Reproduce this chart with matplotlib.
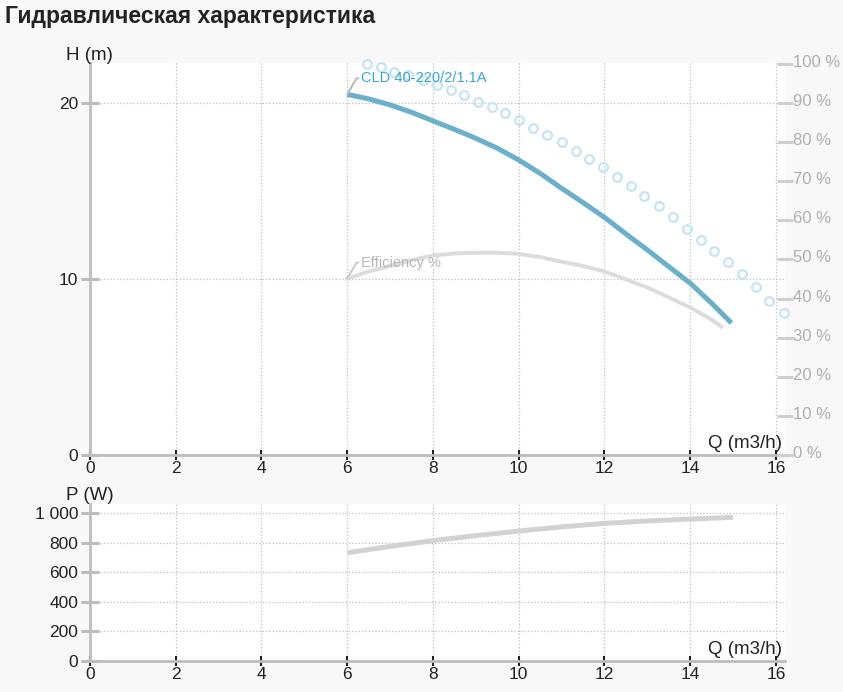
import numpy as np
import matplotlib
matplotlib.use("Agg")
import matplotlib.pyplot as plt
from matplotlib.ticker import FuncFormatter
from matplotlib.transforms import ScaledTranslation

plt.rcParams['font.family'] = ['Liberation Sans', 'DejaVu Sans']

# -----------------------------
# Data
# -----------------------------
title = "Гидравлическая характеристика"
pump_name = "CLD 40-220/2/1.1A"

q_head = [6, 6.5, 7, 7.5, 8, 8.5, 9, 9.5, 10, 10.5, 11, 11.5, 12, 12.5, 13, 13.5, 14, 14.5, 14.96]
head = [20.49, 20.23, 19.89, 19.47, 18.98, 18.5, 17.99, 17.43, 16.76, 16.0, 15.15, 14.34,
        13.5, 12.56, 11.65, 10.7, 9.76, 8.62, 7.5]

q_eff = [6, 6.5, 7, 7.5, 8, 8.5, 9, 9.5, 10, 10.5, 11, 11.5, 12, 12.5, 13, 13.5, 14, 14.5, 14.72]
eff = [45.1, 46.9, 48.3, 49.8, 51.0, 51.5, 51.7, 51.7, 51.4, 50.6, 49.4, 48.3, 46.9, 44.9,
       42.8, 40.3, 37.7, 34.6, 32.8]

q_circ = [6.45, 6.78, 7.10, 7.42, 7.76, 8.09, 8.41, 8.73, 9.06, 9.38, 9.69, 10.01, 10.33,
          10.65, 11.00, 11.33, 11.65, 11.97, 12.28, 12.61, 12.93, 13.26, 13.60, 13.92,
          14.24, 14.56, 14.88, 15.21, 15.53, 15.84, 16.19]
h_circ = [22.22, 22.03, 21.78, 21.59, 21.31, 21.02, 20.74, 20.45, 20.08, 19.75, 19.41,
          19.03, 18.60, 18.18, 17.77, 17.27, 16.84, 16.35, 15.78, 15.28, 14.72, 14.15,
          13.50, 12.84, 12.22, 11.59, 10.95, 10.27, 9.53, 8.77, 8.05]

q_pow = [6, 7, 8, 9, 10, 11, 12, 13, 14, 15]
power = [733, 776, 815, 849, 880, 908, 932, 948, 961, 973]

x_ticks = [0, 2, 4, 6, 8, 10, 12, 14, 16]
h_ticks = [0, 10, 20]
eff_ticks = [0, 10, 20, 30, 40, 50, 60, 70, 80, 90, 100]
p_ticks = [0, 200, 400, 600, 800, 1000]

# -----------------------------
# Styles
# -----------------------------
BG = "#f8f8f8"
SPINE = "#bdbdbd"
GRID = "#bfbfbf"
BLUE = "#6ab0cc"
BLUE_TXT = "#3aa6d8"
CIRC = "#c6e5f3"
EFF = "#dcdcdc"
POW = "#d2d2d2"
RIGHT_TXT = "#b0b0b0"

W, H = 843, 692
fig = plt.figure(figsize=(W / 100, H / 100), dpi=100, facecolor=BG)

def style_axes(ax, yt):
    ax.set_facecolor("white")
    for s in ("top", "right"):
        ax.spines[s].set_visible(False)
    for s in ("left", "bottom"):
        ax.spines[s].set_color(SPINE)
        ax.spines[s].set_linewidth(2.0)
    ax.set_xticks(x_ticks)
    ax.set_yticks(yt)
    ax.tick_params(axis="x", direction="inout", length=7, width=1.5, color="#222222",
                   labelsize=12.5, labelcolor="#222222", pad=1)
    ax.tick_params(axis="y", direction="inout", length=13, width=2.2, color=SPINE,
                   labelsize=12.5, labelcolor="#222222", pad=2)
    ax.grid(True, linestyle=":", color=GRID, linewidth=0.9)
    ax.set_axisbelow(True)

# -----------------------------
# Head / efficiency panel
# -----------------------------
ax = fig.add_axes([90 / W, 1 - 455 / H, 695 / W, 392 / H])
style_axes(ax, h_ticks)
ax.set_xlim(0, 16.21)
ax.set_ylim(0, 22.27)
# no horizontal grid at 0
ax.yaxis.get_gridlines()[0].set_visible(False)

ax.plot(q_circ, h_circ, linestyle="none", marker="o", markersize=6.3, markerfacecolor="none",
        markeredgecolor=CIRC, markeredgewidth=1.6, clip_on=False, zorder=2)
ax.plot(q_head, head, color=BLUE, linewidth=3.6, solid_capstyle="butt", zorder=4)

ax.annotate(pump_name, xy=(q_head[0], head[0]), xytext=(10, 11.5),
            textcoords="offset points", ha="left", va="center", fontsize=10.5,
            color=BLUE_TXT, zorder=5,
            arrowprops=dict(arrowstyle="-", color="#bbbbbb", lw=1.5, shrinkA=0, shrinkB=0,
                            relpos=(0, 0.5),
                            connectionstyle="angle,angleA=0,angleB=60,rad=0"))

ax2 = ax.twinx()
ax2.set_ylim(0, 100.2)
for s in ax2.spines.values():
    s.set_visible(False)
ax2.set_yticks(eff_ticks)
ax2.set_yticklabels([f"{v} %" for v in eff_ticks])
ax2.tick_params(axis="y", direction="inout", length=11, width=2.2, color="#cfcfcf",
                labelsize=12, labelcolor=RIGHT_TXT, pad=0)
lift = ScaledTranslation(0, 3 / 100, fig.dpi_scale_trans)
for lbl in ax2.get_yticklabels():
    lbl.set_transform(lbl.get_transform() + lift)
ax2.plot(q_eff, eff, color=EFF, linewidth=2.8, zorder=3)
ax2.annotate("Efficiency %", xy=(q_eff[0], eff[0]), xytext=(10, 11.5),
             textcoords="offset points", ha="left", va="center", fontsize=10.5,
             color="#b5b5b5",
             arrowprops=dict(arrowstyle="-", color="#cccccc", lw=1.5, shrinkA=0, shrinkB=0,
                             relpos=(0, 0.5),
                             connectionstyle="angle,angleA=0,angleB=60,rad=0"))

ax.annotate("Q (m3/h)", xy=(0.9957, 0), xycoords="axes fraction", xytext=(0, 2),
            textcoords="offset points", ha="right", va="bottom", fontsize=13.5,
            color="#222222")
fig.text(89 / W, 1 - 56 / H, "H (m)", ha="center", va="center", fontsize=13.5,
         color="#222222")

# -----------------------------
# Power panel
# -----------------------------
axp = fig.add_axes([90 / W, 1 - 661 / H, 695 / W, 157 / H])
style_axes(axp, p_ticks)
axp.set_xlim(0, 16.21)
axp.set_ylim(0, 1063)
axp.yaxis.get_gridlines()[0].set_visible(False)
axp.yaxis.set_major_formatter(FuncFormatter(lambda v, p: f"{int(v):,}".replace(",", " ")))
axp.plot(q_pow, power, color=POW, linewidth=3.6, solid_capstyle="butt", zorder=3)

axp.annotate("Q (m3/h)", xy=(0.9957, 0), xycoords="axes fraction", xytext=(0, 2),
             textcoords="offset points", ha="right", va="bottom", fontsize=13.5,
             color="#222222")
fig.text(90 / W, 1 - 496 / H, "P (W)", ha="center", va="center", fontsize=13.5,
         color="#222222")

fig.text(5 / W, 1 - 16 / H, title, ha="left", va="center", fontsize=16.5,
         fontweight="bold", color="#222222")

fig.savefig("out.png", dpi=100, facecolor=BG)
